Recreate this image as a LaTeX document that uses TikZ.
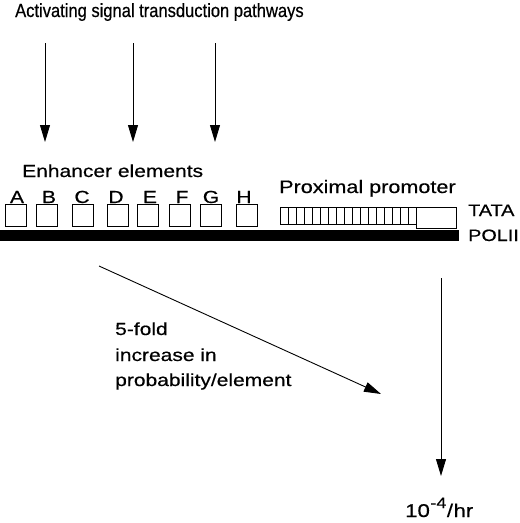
\documentclass[tikz,border=0pt]{standalone}
\usepackage{fontspec}
\setmainfont{Liberation Sans}
\newfontfamily\widefont[FakeStretch=1.2, FakeBold=0.5]{Liberation Sans}
\newfontfamily\titlefont[FakeStretch=0.87, FakeBold=0.5]{Liberation Sans}
\usetikzlibrary{arrows.meta}

\tikzset{
  title/.style={anchor=base west, inner sep=0pt, font=\titlefont\fontsize{19}{22}\selectfont},
  lab/.style={anchor=base west, inner sep=0pt, font=\widefont\fontsize{17.5}{20}\selectfont},
  tag/.style={lab, font=\widefont\fontsize{16.5}{20}\selectfont},
  elem/.style={draw, line width=0.8pt, minimum width=21pt, minimum height=22pt, inner sep=0pt},
  sig/.style={line width=0.9pt, -{Triangle[length=17pt,width=10pt]}},
}

\begin{document}
\begin{tikzpicture}[x=1pt, y=-1pt]
  \useasboundingbox (0,0) rectangle (520,523);
  \node[title] (title) at (15,17) {Activating signal transduction pathways};

  % signal arrows
  \foreach \n/\x in {1/45, 2/133, 3/215} {
    \coordinate (sigtop\n) at (\x,43);
    \coordinate (sigend\n) at (\x,142);
    \draw[sig] (sigtop\n) -- (sigend\n);
  }

  % enhancer elements
  \node[lab] (enh) at (22,177) {Enhancer elements};
  \foreach \n/\x/\lx in {A/16/17, B/47/49, C/82.5/82, D/117.5/116, E/147.5/150, F/179.5/182, G/211/211, H/246.5/244} {
    \node[elem] (\n) at (\x,215) {};
    \node[lab, anchor=base] (lbl\n) at (\lx,203) {\n};
  }

  % DNA
  \fill (0,230) rectangle (459,241);
  \node[tag] (polii) at (468,241) {POLII};

  % proximal promoter
  \node[lab, font=\widefont\fontsize{18}{20}\selectfont] (prox) at (279,193) {Proximal promoter};
  \draw[line width=0.8pt] (280,207) rectangle (416,224);
  \foreach \i in {1,...,16}
    \draw[line width=0.8pt] (280+8*\i,207) -- (280+8*\i,224);
  \node[draw, line width=0.8pt, anchor=north west, minimum width=40pt, minimum height=21pt, inner sep=0pt] (tatabox) at (416,207) {};
  \node[tag] (tata) at (468,216) {TATA};

  % probability per element
  \coordinate (prob0) at (99,266);
  \coordinate (prob1) at (381,394);
  \draw[sig] (prob0) -- (prob1);
  \node[lab] (fold1) at (115,335) {5-fold};
  \node[lab] (fold2) at (115,361) {increase in};
  \node[lab] (fold3) at (115,386) {probability/element};

  % basal rate
  \coordinate (base0) at (441,278);
  \coordinate (base1) at (441,476);
  \draw[sig] (base0) -- (base1);
  \node[lab, font=\widefont\fontsize{18.5}{20}\selectfont] (rate) at (405,517)
    {10\kern0.5pt\raisebox{9pt}{\fontsize{15}{15}\selectfont -4}\kern0.5pt/\kern0.5pt hr};
\end{tikzpicture}
\end{document}
